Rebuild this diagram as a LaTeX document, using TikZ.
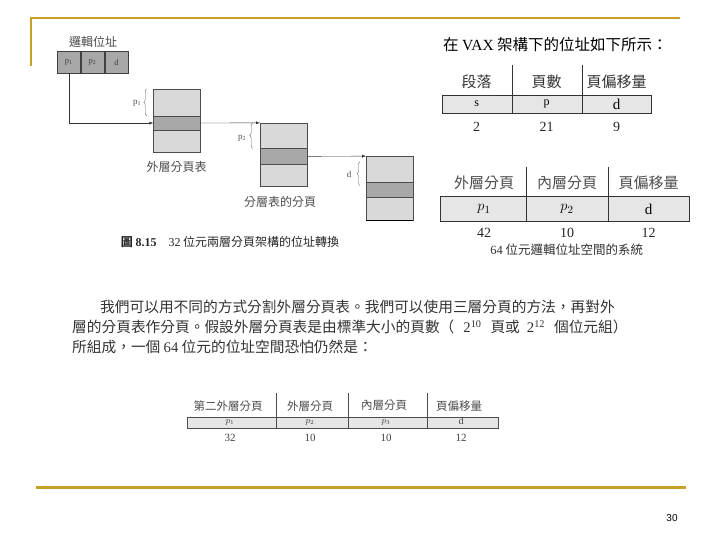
\documentclass[tikz,border=0pt]{standalone}
\usepackage{fontspec}
\setmainfont{Noto Sans CJK TC}[Language=Chinese Traditional]
\newfontfamily\latin{Liberation Serif}
\newfontfamily\pagefont{Liberation Sans}
\usetikzlibrary{arrows.meta,decorations.pathreplacing}
\definecolor{framegold}{RGB}{200,160,42}
\definecolor{cellgray}{RGB}{168,168,168}
\definecolor{pagegray}{RGB}{217,217,217}
\definecolor{rowgray}{RGB}{230,230,230}
\newcommand{\fs}[1]{\fontsize{#1}{#1}\selectfont}

\begin{document}
\begin{tikzpicture}[x=1pt,y=-1pt,
  addrcell/.style={draw=black!75,fill=cellgray,minimum width=23.5pt,minimum height=21.6pt,inner sep=0pt,font=\latin\fs{8.5},text=black!75},
  pagebox/.style={draw=black!70,fill=pagegray,minimum width=46.7pt,inner sep=0pt,anchor=north west},
  band/.style={draw=black!70,fill=cellgray,minimum width=46.7pt,inner sep=0pt,anchor=north west},
  link/.style={draw=black!80,-{Latex[length=4pt,width=3pt]}},
  brc/.style={decorate,decoration={brace,amplitude=3pt},draw=black!60},
  lbl/.style={font=\fs{12},text=black!70},
  sym/.style={font=\latin\fs{9},text=black!70},
  thead/.style={font=\fs{15},text=black!80},
  tval/.style={font=\latin\fs{14},text=black!85},
  shead/.style={font=\fs{11.5},text=black!70},
  sval/.style={font=\latin\fs{11},text=black!75},
  para/.style={font=\fs{14.7},text=black!80,anchor=west,inner sep=0pt},
  frame/.style={draw=framegold,line width=2.5pt}
]
\useasboundingbox (0,0) rectangle (720,540);

% slide frame
\draw[frame] (31,66) -- (31,18) -- (680,18);
\draw[frame,line width=3pt] (36,487) -- (686,487);
\node[font=\pagefont\fs{10}] (pageno) at (672,518) {30};

% logical address
\node[lbl] (addrtitle) at (93,42) {邏輯位址};
\node[addrcell] (c1) at (68.7,62.5) {p\textsubscript{1}};
\node[addrcell,anchor=west] (c2) at (c1.east) {p\textsubscript{2}};
\node[addrcell,anchor=west] (c3) at (c2.east) {d};

% outer page table
\node[pagebox,minimum height=63.3pt] (outer) at (153.3,89) {};
\node[band,minimum height=14.3pt] (outerband) at (153.3,115.7) {};
\node[lbl] (outerlbl) at (176.7,166.7) {外層分頁表};
\draw[brc] (146.7,115.7) -- (146.7,89);
\node[sym] (p1lbl) at (137,103) {p\textsubscript{1}};

% page of page table
\node[pagebox,minimum height=63pt] (inner) at (260,122.85) {};
\node[band,minimum height=15.7pt] (innerband) at (260,148.3) {};
\node[lbl] (innerlbl) at (280,201.7) {分層表的分頁};
\draw[brc] (252.7,148.3) -- (252.7,122.85);
\node[sym] (p2lbl) at (242,138) {p\textsubscript{2}};

% page
\node[pagebox,minimum height=64pt] (frm) at (366,156.15) {};
\node[band,minimum height=15pt] (frmband) at (366,182.3) {};
\draw[line width=1.5pt] (frm.south west) -- (frm.south east);
\draw[brc] (360,185.7) -- (360,161.7);
\node[sym] (dlbl) at (349,174) {d};

\draw[link] (c1.south) |- (outerband.west);
\draw[link] (outerband.east) -- (inner.north west);
\draw[link] (innerband.east) -- (frm.north west);

\node[lbl,text=black!85] (fig) at (230,241.7) {{\bfseries 圖 {\latin 8.15}}\quad{\latin 32} 位元兩層分頁架構的位址轉換};

% VAX address
\node[font=\fs{15.5},anchor=west,inner sep=0pt] (vaxtitle) at (443,45) {在 {\latin VAX} 架構下的位址如下所示：};
\draw[draw=black!80,fill=rowgray] (441.7,95) rectangle (650.7,113.3);
\draw[black!80] (511.7,65) -- (511.7,113.3) (581.7,65) -- (581.7,113.3);
\node[thead] (h1) at (476.7,81.7) {段落};
\node[thead] (h2) at (546.7,81.7) {頁數};
\node[thead] (h3) at (616.5,81.7) {頁偏移量};
\node[font=\latin\fs{12}] (s) at (476.7,104.2) {s};
\node[font=\latin\fs{12}] (p) at (546.7,104.2) {p};
\node[font=\latin\fs{15}] (d) at (616.5,104.2) {d};
\node[tval] (n1) at (476.7,126.7) {2};
\node[tval] (n2) at (546.7,126.7) {21};
\node[tval] (n3) at (616.5,126.7) {9};

% 64-bit two level
\draw[draw=black!80,fill=rowgray] (440,196.7) rectangle (689.3,221.7);
\draw[black!80] (526,166.7) -- (526,221.7) (608.3,166.7) -- (608.3,221.7);
\node[thead,text=black!70] (k1) at (484,183.3) {外層分頁};
\node[thead,text=black!70] (k2) at (567,183.3) {內層分頁};
\node[thead,text=black!70] (k3) at (648.5,183.3) {頁偏移量};
\node[font=\fs{15}] (q1) at (484,209.2) {$p_1$};
\node[font=\fs{15}] (q2) at (567,209.2) {$p_2$};
\node[font=\latin\fs{15}] (q3) at (648.5,209.2) {d};
\node[tval] (m1) at (484,233.3) {42};
\node[tval] (m2) at (567,233.3) {10};
\node[tval] (m3) at (648.5,233.3) {12};
\node[font=\fs{12.5},text=black!80] (sys64) at (566.7,250) {{\latin 64} 位元邏輯位址空間的系統};

% paragraph
\node[para] (line1) at (100,306.7) {我們可以用不同的方式分割外層分頁表。我們可以使用三層分頁的方法，再對外};
\node[para] (line2) at (72,327) {層的分頁表作分頁。假設外層分頁表是由標準大小的頁數（\hspace{9pt}{\latin 2\textsuperscript{10}}\hspace{9pt}頁或\hspace{7pt}{\latin 2\textsuperscript{12}}\hspace{9pt}個位元組）};
\node[para] (line3) at (72,346.7) {所組成，一個 {\latin 64} 位元的位址空間恐怕仍然是：};

% three level
\draw[draw=black!70,fill=rowgray] (186.7,416.7) rectangle (498.3,427.7);
\draw[black!70] (275.7,393.3) -- (275.7,427.7) (348.3,393.3) -- (348.3,427.7) (426.7,393.3) -- (426.7,427.7);
\node[shead] (t1) at (228,405.7) {第二外層分頁};
\node[shead] (t2) at (310,405.7) {外層分頁};
\node[shead] (t3) at (384,405.7) {內層分頁};
\node[shead] (t4) at (459,405.7) {頁偏移量};
\node[font=\fs{9},text=black!75] (r1) at (230,422.2) {$p_1$};
\node[font=\fs{9},text=black!75] (r2) at (310,422.2) {$p_2$};
\node[font=\fs{9},text=black!75] (r3) at (386,422.2) {$p_3$};
\node[font=\latin\fs{10},text=black!75] (r4) at (461,421.5) {d};
\node[sval] (u1) at (230,438.3) {32};
\node[sval] (u2) at (310,438.3) {10};
\node[sval] (u3) at (386,438.3) {10};
\node[sval] (u4) at (461,438.3) {12};
\end{tikzpicture}
\end{document}
